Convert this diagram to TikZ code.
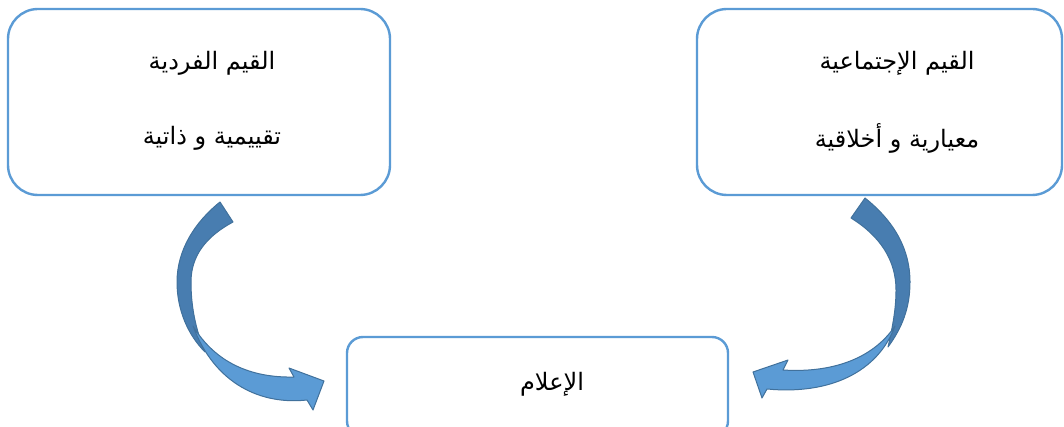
\documentclass[tikz,border=0pt]{standalone}
\usepackage{fontspec}
\newfontfamily\arabicfont[Script=Arabic]{DejaVu Sans}
\TeXXeTstate=1
\definecolor{boxline}{HTML}{5B9BD5}
\definecolor{arrdark}{HTML}{487DB0}
\definecolor{arrlight}{HTML}{5B9BD5}
\definecolor{arredge}{HTML}{41719C}
\tikzset{
  roundbox/.style={draw=boxline, line width=2.4pt, fill=white},
  artext/.style={font=\arabicfont\fontsize{24}{28}\selectfont, inner sep=0pt},
  backpart/.style={fill=arrdark, draw=arredge, line width=1pt, line join=round},
  frontpart/.style={fill=arrlight, draw=arredge, line width=1pt, line join=round}
}
\begin{document}
\begin{tikzpicture}[x=1pt,y=-1pt]
\useasboundingbox (0,0) rectangle (1064,427);
\clip (0,0) rectangle (1064,427);
% boxes
\node[roundbox, rounded corners=30pt, minimum width=382pt, minimum height=186pt] (indiv) at (199,102) {};
\node[roundbox, rounded corners=30pt, minimum width=365pt, minimum height=186pt] (social) at (879.5,102) {};
\node[roundbox, rounded corners=16pt, minimum width=381pt, minimum height=100pt] (media) at (537.5,387) {};
% texts
\node[artext] (t1) at (212,63) {\beginR القيم الفردية\endR};
\node[artext] (t2) at (212,138) {\beginR تقييمية و ذاتية\endR};
\node[artext] (t3) at (897,63) {\beginR القيم الإجتماعية\endR};
\node[artext] (t4) at (897,138) {\beginR معيارية و أخلاقية\endR};
\node[artext] (t5) at (552,384) {\beginR الإعلام\endR};
% left curved arrow
\draw[backpart] (220,202) .. controls (195,222) and (177,250) .. (177,282)
  .. controls (177,310) and (188,335) .. (205,352)
  .. controls (195,328) and (191,305) .. (191,282)
  .. controls (191,255) and (207,236) .. (233,222) -- cycle;
\draw[frontpart] (193,326) .. controls (215,362) and (250,378) .. (294,377)
  -- (289,368) -- (324,381) -- (313,410) -- (307,400)
  .. controls (262,405) and (215,385) .. (193,326) -- cycle;
% right curved arrow
\draw[backpart] (865,198) .. controls (895,222) and (910,250) .. (910,282)
  .. controls (910,308) and (902,328) .. (888,347)
  .. controls (893,325) and (896,308) .. (896,290)
  .. controls (896,260) and (880,236) .. (851,218) -- cycle;
\draw[frontpart] (895,326) .. controls (872,360) and (830,373) .. (783,370)
  -- (788,360) -- (753,372) -- (762,398) -- (767,389)
  .. controls (830,395) and (878,372) .. (895,326) -- cycle;
\end{tikzpicture}
\end{document}
